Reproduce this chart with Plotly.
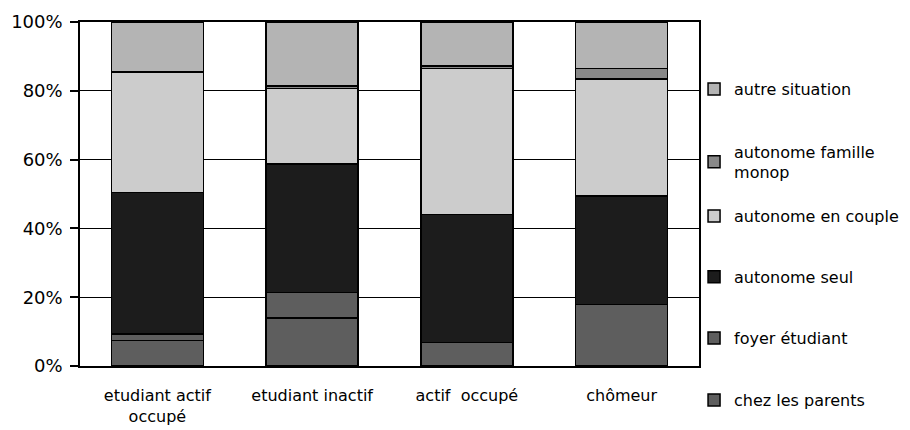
import plotly.graph_objects as go

categories = ["etudiant actif<br>occupé", "etudiant inactif", "actif  occupé", "chômeur"]

chez_les_parents = [7.4, 13.9, 6.9, 17.9]
foyer_etudiant = [1.9, 7.5, 0.0, 0.0]
autonome_seul = [41.2, 37.3, 37.2, 31.5]
autonome_en_couple = [34.9, 22.0, 42.4, 34.1]
autonome_famille_monop = [0.0, 0.7, 0.7, 3.0]
autre_situation = [14.6, 18.6, 12.8, 13.5]

y_ticks = [0, 20, 40, 60, 80, 100]

series = [
    ("chez les parents", chez_les_parents, "#5e5e5e", "legend6", -0.099),
    ("foyer étudiant", foyer_etudiant, "#5e5e5e", "legend5", 0.081),
    ("autonome seul", autonome_seul, "#1c1c1c", "legend4", 0.259),
    ("autonome en couple", autonome_en_couple, "#cccccc", "legend3", 0.436),
    ("autonome famille<br>monop", autonome_famille_monop, "#888888", "legend2", 0.593),
    ("autre situation", autre_situation, "#b4b4b4", "legend", 0.805),
]

FONT = "DejaVu Sans"

fig = go.Figure()
layout_legends = {}
for name, vals, color, lg, ly in series:
    fig.add_trace(go.Bar(
        x=categories, y=vals, name=name,
        marker=dict(color=color, line=dict(color="black", width=1.5)),
        legend=lg,
    ))
    layout_legends[lg] = dict(
        x=0.992, xanchor="left", y=ly, yanchor="middle",
        bgcolor="rgba(0,0,0,0)", borderwidth=0,
        font=dict(family=FONT, size=16, color="black"),
        itemclick=False,
    )

# the page adds an 8px body margin, so the figure is 8px smaller
fig.update_layout(
    barmode="stack",
    bargap=0.405,
    width=902, height=422,
    margin=dict(l=72, r=211, t=14, b=64, autoexpand=False),
    plot_bgcolor="white",
    paper_bgcolor="white",
    showlegend=True,
    font=dict(family=FONT, size=16, color="black"),
    **layout_legends,
)

fig.update_yaxes(
    range=[0, 100],
    tickvals=y_ticks,
    ticktext=[f"{v}%" for v in y_ticks],
    ticks="outside", ticklen=8, tickcolor="black", tickwidth=1.5,
    showgrid=True, gridcolor="black", gridwidth=1.2,
    showline=True, linecolor="black", linewidth=1.5, mirror=True,
    tickfont=dict(family=FONT, size=18, color="black"),
    ticklabelstandoff=4,
    zeroline=False,
)
fig.update_xaxes(
    showline=True, linecolor="black", linewidth=2, mirror=True,
    ticks="", tickfont=dict(family=FONT, size=16, color="black"),
    ticklabelstandoff=14,
)

fig.write_html("out.html")
